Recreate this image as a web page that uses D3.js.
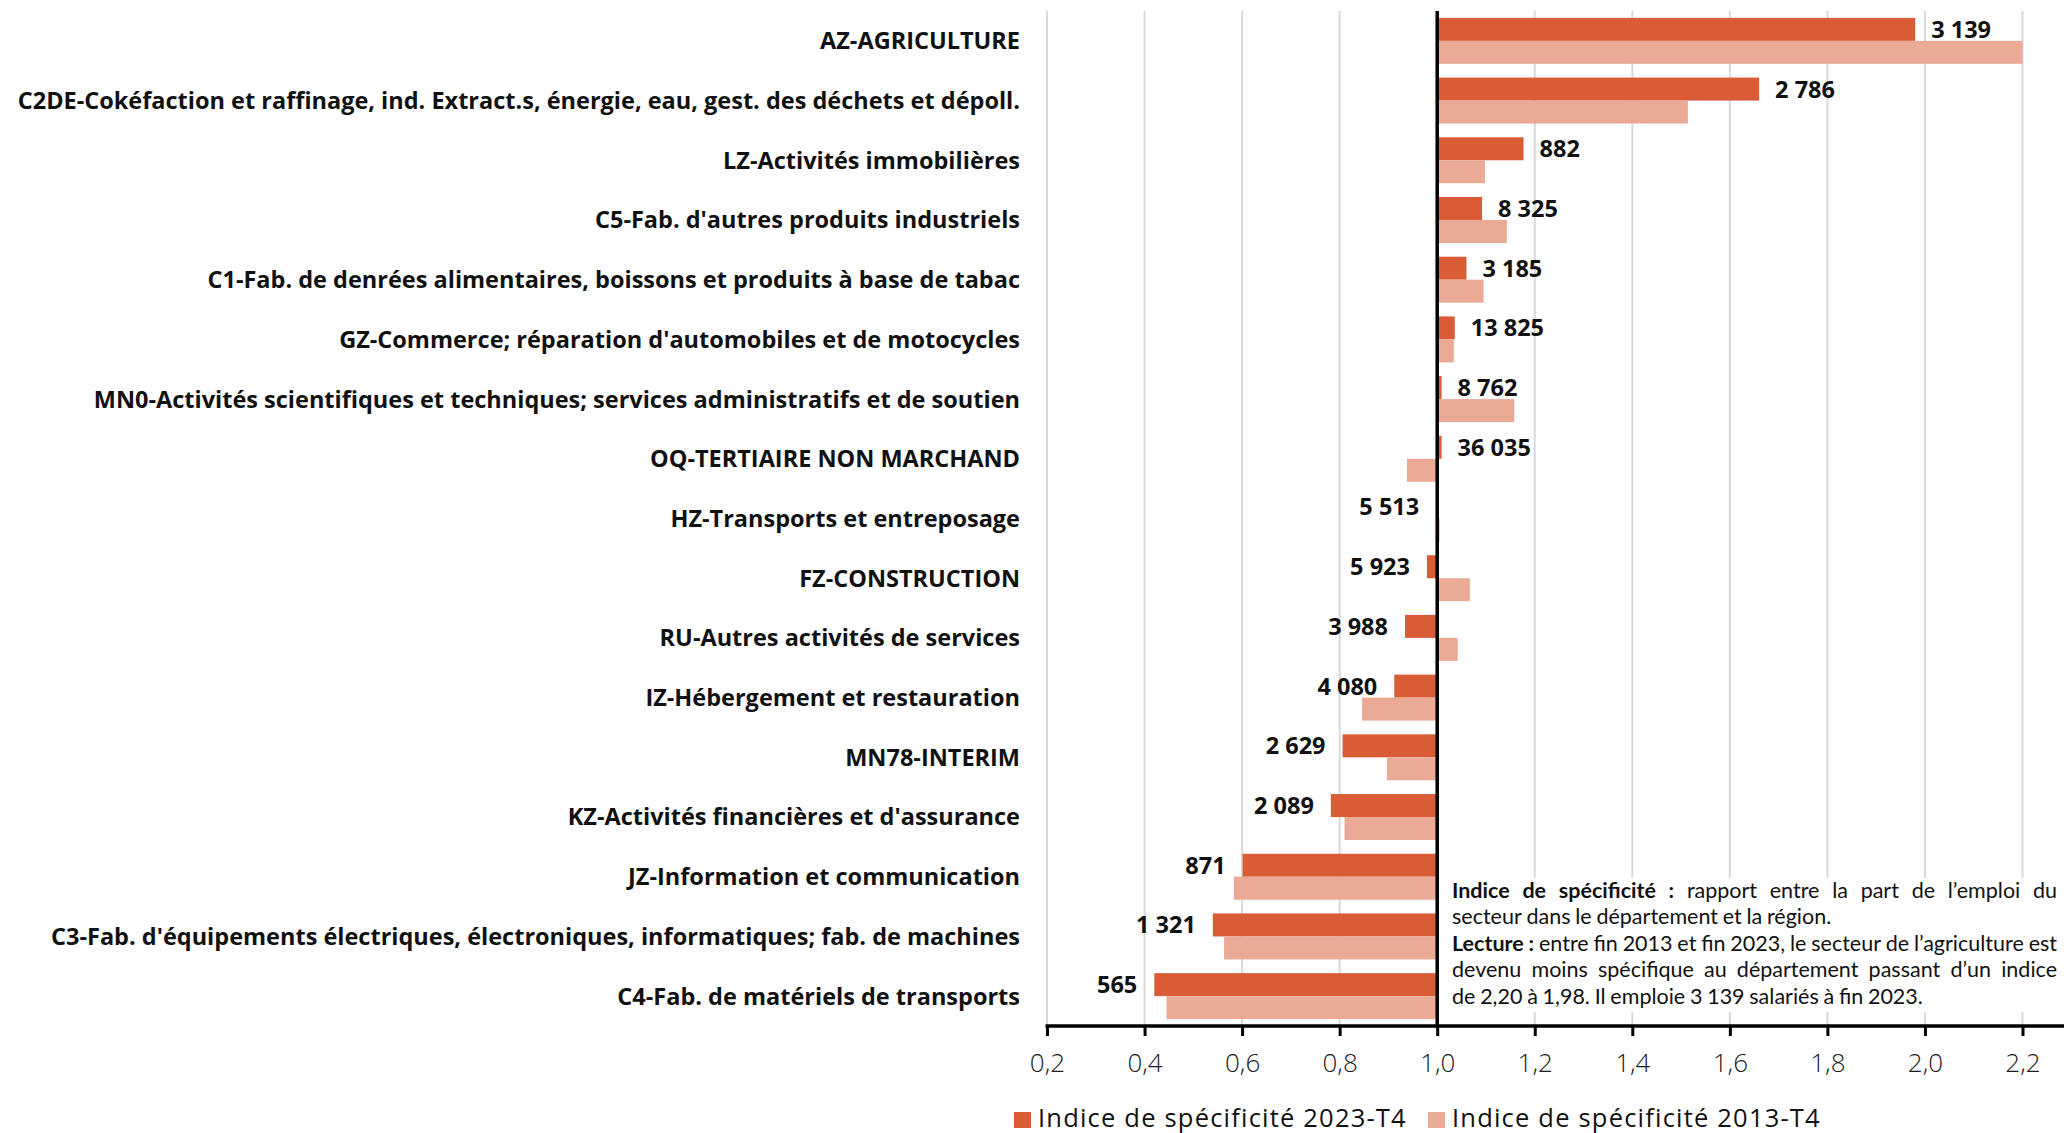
<!DOCTYPE html>
<html lang="fr">
<head>
<meta charset="utf-8">
<script src="https://cdn.jsdelivr.net/npm/d3@7"></script>
<style>
  html, body { margin: 0; padding: 0; background: #fff; }
  svg { display: block; }
</style>
</head>
<body>
<svg id="chart" width="2064" height="1133"></svg>
<script>
// Secteurs d'activité, du plus au moins spécifique
const categories = [
  "AZ-AGRICULTURE",
  "C2DE-Cokéfaction et raffinage, ind. Extract.s, énergie, eau, gest. des déchets et dépoll.",
  "LZ-Activités immobilières",
  "C5-Fab. d'autres produits industriels",
  "C1-Fab. de denrées alimentaires, boissons et produits à base de tabac",
  "GZ-Commerce; réparation d'automobiles et de motocycles",
  "MN0-Activités scientifiques et techniques; services administratifs et de soutien",
  "OQ-TERTIAIRE NON MARCHAND",
  "HZ-Transports et entreposage",
  "FZ-CONSTRUCTION",
  "RU-Autres activités de services",
  "IZ-Hébergement et restauration",
  "MN78-INTERIM",
  "KZ-Activités financières et d'assurance",
  "JZ-Information et communication",
  "C3-Fab. d'équipements électriques, électroniques, informatiques; fab. de machines",
  "C4-Fab. de matériels de transports"
];

// Indice de spécificité fin 2023 (T4)
const indice2023 = [1.98, 1.66, 1.177, 1.092, 1.060, 1.036, 1.009, 1.009, 0.998, 0.979,
                    0.934, 0.912, 0.806, 0.782, 0.601, 0.540, 0.420];

// Indice de spécificité fin 2013 (T4)
const indice2013 = [2.20, 1.514, 1.098, 1.143, 1.095, 1.034, 1.158, 0.938, 1.005, 1.067,
                    1.042, 0.846, 0.897, 0.810, 0.583, 0.563, 0.445];

// Salariés fin 2023
const effectifs2023 = [3139, 2786, 882, 8325, 3185, 13825, 8762, 36035, 5513, 5923,
                       3988, 4080, 2629, 2089, 871, 1321, 565];

const xTicks = [0.2, 0.4, 0.6, 0.8, 1.0, 1.2, 1.4, 1.6, 1.8, 2.0, 2.2];

const seriesNames = ["Indice de spécificité 2023-T4", "Indice de spécificité 2013-T4"];
const seriesColors = ["#D95C37", "#EBAA96"];

const noteLines = [
  { justify: true,  segs: [["Indice de spécificité :", true], ["rapport entre la part de l’emploi du", false]] },
  { justify: false, segs: [["secteur dans le département et la région.", false]] },
  { justify: true,  segs: [["Lecture :", true], ["entre fin 2013 et fin 2023, le secteur de l’agriculture est", false]] },
  { justify: true,  segs: [["devenu moins spécifique au département passant d’un indice", false]] },
  { justify: false, segs: [["de 2,20 à 1,98. Il emploie 3 139 salariés à fin 2023.", false]] }
];

const W = 2064, H = 1133;
const svg = d3.select("#chart");

const fr = d3.formatLocale({ decimal: ",", thousands: " ", grouping: [3], currency: ["", " €"] });
const fmtTick = fr.format(".1f");
const fmtEff = fr.format(",d");

const plotTop = 11, plotBottom = 1026;
const x = d3.scaleLinear().domain([0.2, 2.2]).range([1047, 2022.5]);
const y = d3.scaleBand().domain(categories).range([plotTop, plotBottom])
  .paddingInner(0.23).paddingOuter(0.115);
const sub = d3.scaleBand().domain([0, 1]).range([0, y.bandwidth()]);
const base = x(1.0);

// Quadrillage vertical
svg.append("g").selectAll("line").data(xTicks).join("line")
  .attr("x1", d => x(d)).attr("x2", d => x(d))
  .attr("y1", plotTop).attr("y2", plotBottom)
  .attr("stroke", "#d9d9d9").attr("stroke-width", 2);

// Barres
const rows = categories.map((c, i) => ({ c, v: [indice2023[i], indice2013[i]], n: effectifs2023[i] }));
const gBars = svg.append("g");
[0, 1].forEach(s => {
  gBars.append("g").selectAll("rect").data(rows).join("rect")
    .attr("x", d => Math.min(x(d.v[s]), base))
    .attr("width", d => Math.abs(x(d.v[s]) - base))
    .attr("y", d => y(d.c) + sub(s))
    .attr("height", sub.bandwidth())
    .attr("fill", seriesColors[s]);
});

// Bloc de note (fond blanc au-dessus du quadrillage)
const noteX = 1452, noteRight = 2057;
svg.append("rect").attr("x", 1444).attr("y", 878).attr("width", W - 1444).attr("height", 134)
  .attr("fill", "#fff");

// Axe vertical à 1,0
svg.append("line").attr("x1", base).attr("x2", base)
  .attr("y1", plotTop).attr("y2", plotBottom + 1.5)
  .attr("stroke", "#000").attr("stroke-width", 3.5);

// Étiquettes d'effectifs
svg.append("g").selectAll("text").data(rows).join("text")
  .attr("x", d => d.v[0] >= 1 ? x(d.v[0]) + 16 : x(d.v[0]) - 17)
  .attr("y", d => y(d.c) + sub(0) + sub.bandwidth() / 2)
  .attr("dy", "0.36em")
  .attr("text-anchor", d => d.v[0] >= 1 ? "start" : "end")
  .attr("font-family", "'Open Sans', sans-serif")
  .attr("font-weight", 700)
  .attr("font-size", 23.5)
  .attr("fill", "#111")
  .text(d => fmtEff(d.n));

// Libellés des secteurs
svg.append("g").selectAll("text").data(categories).join("text")
  .attr("x", 1020)
  .attr("y", d => y(d) + y.bandwidth() / 2)
  .attr("dy", "0.36em")
  .attr("text-anchor", "end")
  .attr("font-family", "'Open Sans', sans-serif")
  .attr("font-weight", 700)
  .attr("font-size", 23.5)
  .attr("fill", "#111")
  .text(d => d);

// Axe horizontal
const axisG = svg.append("g").attr("transform", `translate(0,${plotBottom})`)
  .call(d3.axisBottom(x).tickValues(xTicks).tickSize(10).tickPadding(18).tickFormat(fmtTick));
axisG.select(".domain").remove();
axisG.selectAll(".tick line").attr("stroke", "#000").attr("stroke-width", 3);
axisG.selectAll(".tick text")
  .attr("font-family", "'Open Sans', sans-serif")
  .attr("font-weight", 300)
  .attr("font-size", 26)
  .attr("fill", "#1a1a1a");
svg.append("line").attr("x1", x(0.2) - 1.5).attr("x2", W)
  .attr("y1", plotBottom).attr("y2", plotBottom)
  .attr("stroke", "#000").attr("stroke-width", 3.5);

// Légende
const legend = svg.append("g").attr("font-family", "'Open Sans', sans-serif")
  .attr("font-size", 25.5).attr("letter-spacing", 1.2);
const legendX = [1014, 1428];
seriesNames.forEach((name, i) => {
  legend.append("rect").attr("x", legendX[i]).attr("y", 1112).attr("width", 17).attr("height", 16)
    .attr("fill", seriesColors[i]);
  legend.append("text").attr("x", legendX[i] + 24).attr("y", 1127)
    .attr("fill", "#111").text(name);
});

// Note de lecture, justifiée mot à mot
const noteSize = 21.5;
const noteG = svg.append("g").attr("font-family", "Lato, sans-serif").attr("font-size", noteSize).attr("fill", "#111");
const lineGap = 26.6, firstBaseline = 897.5;
noteLines.forEach((ln, li) => {
  const words = [];
  ln.segs.forEach(([txt, bold]) => txt.split(" ").forEach(w => words.push({ w, bold })));
  const lg = noteG.append("g");
  const yb = firstBaseline + li * lineGap;
  const nodes = words.map(d => lg.append("text").attr("y", yb)
    .attr("font-weight", d.bold ? 700 : 400).text(d.w));
  const widths = nodes.map(n => n.node().getComputedTextLength());
  const sum = d3.sum(widths);
  const space = noteSize * 0.22;
  let gap = space;
  if (ln.justify && words.length > 1) gap = (noteRight - noteX - sum) / (words.length - 1);
  if (gap < 3) gap = 3;
  let cx = noteX;
  nodes.forEach((n, i) => { n.attr("x", cx); cx += widths[i] + gap; });
  const total = cx - gap - noteX;
  if (total > noteRight - noteX) {
    const k = (noteRight - noteX) / total;
    lg.attr("transform", `translate(${noteX},0) scale(${k},1) translate(${-noteX},0)`);
  }
});
</script>
</body>
</html>
